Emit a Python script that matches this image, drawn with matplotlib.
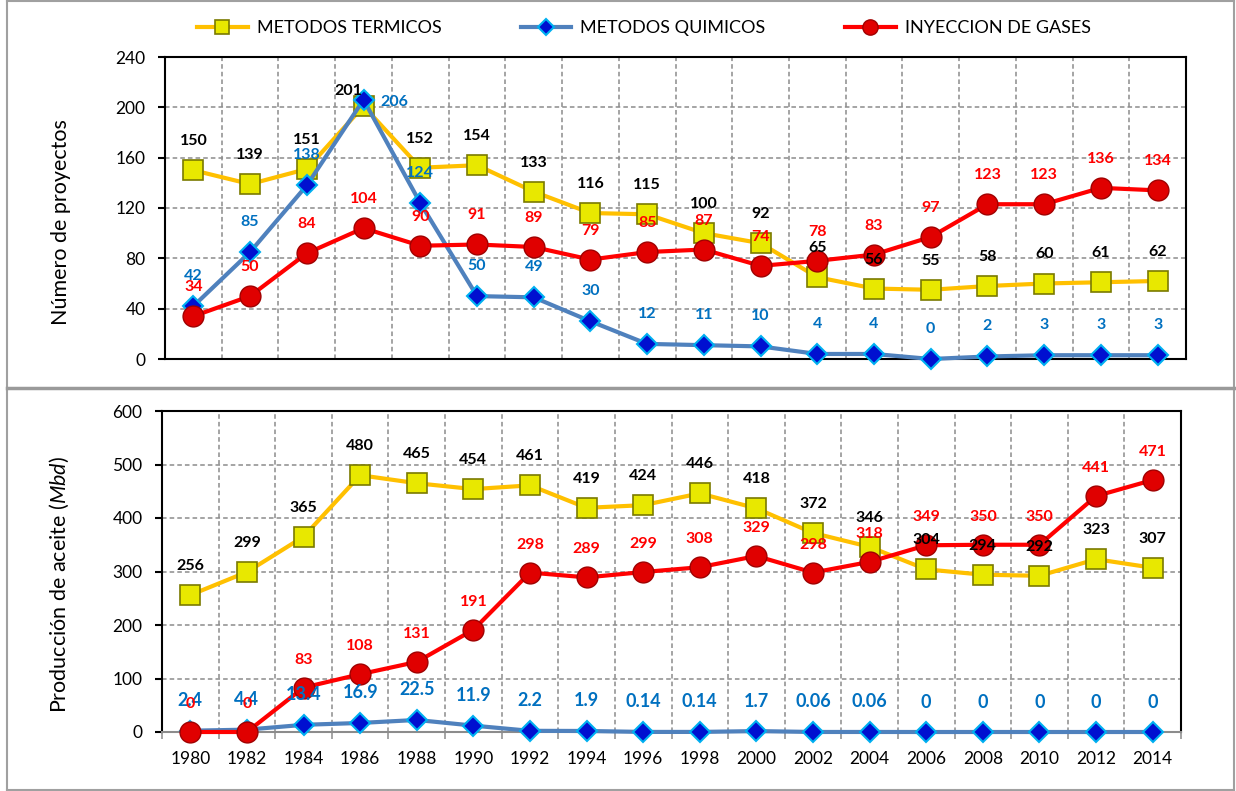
import matplotlib.pyplot as plt
from matplotlib.lines import Line2D
import numpy as np

plt.rcParams['font.family'] = ['Lato', 'DejaVu Sans']
plt.rcParams['mathtext.fontset'] = 'custom'
plt.rcParams['mathtext.rm'] = 'Lato'
plt.rcParams['mathtext.it'] = 'Lato:italic'

years = ['1980', '1982', '1984', '1986', '1988', '1990', '1992', '1994', '1996',
         '1998', '2000', '2002', '2004', '2006', '2008', '2010', '2012', '2014']

# numero de proyectos
termicos_proy = [150, 139, 151, 201, 152, 154, 133, 116, 115, 100, 92, 65, 56, 55, 58, 60, 61, 62]
quimicos_proy = [42, 85, 138, 206, 124, 50, 49, 30, 12, 11, 10, 4, 4, 0, 2, 3, 3, 3]
gases_proy = [34, 50, 84, 104, 90, 91, 89, 79, 85, 87, 74, 78, 83, 97, 123, 123, 136, 134]

# produccion de aceite (Mbd)
termicos_prod = [256, 299, 365, 480, 465, 454, 461, 419, 424, 446, 418, 372, 346, 304, 294, 292, 323, 307]
quimicos_prod = [2.4, 4.4, 13.4, 16.9, 22.5, 11.9, 2.2, 1.9, 0.14, 0.14, 1.7, 0.06, 0.06, 0, 0, 0, 0, 0]
quimicos_prod_lbl = ['2.4', '4.4', '13.4', '16.9', '22.5', '11.9', '2.2', '1.9', '0.14', '0.14', '1.7',
                     '0.06', '0.06', '0', '0', '0', '0', '0']
gases_prod = [0, 0, 83, 108, 131, 191, 298, 289, 299, 308, 329, 298, 318, 349, 350, 350, 441, 471]

x = np.arange(len(years))

st_term = dict(color='#FFC000', lw=3, marker='s', ms=14, mfc='#E8E800', mec='#7A7A00', mew=1.2)
st_quim = dict(color='#4F81BD', lw=3, marker='D', ms=10, mfc='#0010D0', mec='#00B0F0', mew=1.5)
st_gas = dict(color='#FF0000', lw=3, marker='o', ms=15, mfc='#E00000', mec='#A00000', mew=1.0)

c_term, c_quim, c_gas = 'black', '#0070C0', '#FF0000'
lbl_fs = 11.5

fig = plt.figure(figsize=(12.36, 7.91), dpi=100)
ax1 = fig.add_axes([165/1236, 1-359/791, (1186-165)/1236, (359-57)/791])
ax2 = fig.add_axes([162/1236, 1-732/791, (1181-162)/1236, (732-411)/791])


def style(ax, ymax, step, bottom_labels):
    ax.set_xlim(-0.5, len(years)-0.5)
    ax.set_ylim(0, ymax)
    ax.set_yticks(np.arange(0, ymax+1, step))
    ax.set_xticks(x)
    ax.set_xticks(np.arange(-0.5, len(years), 1), minor=True)
    ax.grid(True, which='minor', axis='x', ls=(0, (3, 2)), color='#8C8C8C', lw=1.1)
    ax.grid(True, which='major', axis='y', ls=(0, (3, 2)), color='#8C8C8C', lw=1.1)
    ax.set_axisbelow(True)
    ax.tick_params(axis='y', length=5, width=1.5, pad=9, labelsize=12.5)
    for s in ['left', 'top', 'right', 'bottom']:
        ax.spines[s].set_color('black')
        ax.spines[s].set_linewidth(1.5)
    if bottom_labels:
        ax.set_xticklabels(years)
        ax.tick_params(axis='x', which='major', length=0, pad=14, labelsize=12.5)
        ax.tick_params(axis='x', which='minor', length=5, color='#8C8C8C', width=1.1)
        ax.spines['bottom'].set_color('#8C8C8C')
        ax.spines['bottom'].set_linewidth(1.5)
    else:
        ax.tick_params(axis='x', which='both', length=0, labelbottom=False)


style(ax1, 240, 40, False)
style(ax2, 600, 100, True)

# panel superior
ax1.plot(x, termicos_proy, **st_term, clip_on=False, zorder=3)
ax1.plot(x, quimicos_proy, **st_quim, clip_on=False, zorder=4)
ax1.plot(x, gases_proy, **st_gas, clip_on=False, zorder=5)

for i in range(len(years)):
    off_t = (0, 29)
    off_q = (0, 30)
    if i == 3:
        off_t = (-15, 15)
        off_q = (31, -2)
    ax1.annotate(str(termicos_proy[i]), (x[i], termicos_proy[i]), xytext=off_t,
                 textcoords='offset pixels', ha='center', va='center',
                 color=c_term, fontsize=lbl_fs, fontweight='bold', zorder=6)
    ax1.annotate(str(quimicos_proy[i]), (x[i], quimicos_proy[i]), xytext=off_q,
                 textcoords='offset pixels', ha='center', va='center',
                 color=c_quim, fontsize=lbl_fs, fontweight='bold', zorder=6)
    ax1.annotate(str(gases_proy[i]), (x[i], gases_proy[i]), xytext=(0, 29),
                 textcoords='offset pixels', ha='center', va='center',
                 color=c_gas, fontsize=lbl_fs, fontweight='bold', zorder=6)

ax1.set_ylabel('Número de proyectos', fontsize=15.5)

# panel inferior
ax2.plot(x, termicos_prod, **st_term, clip_on=False, zorder=3)
ax2.plot(x, quimicos_prod, **st_quim, clip_on=False, zorder=4)
ax2.plot(x, gases_prod, **st_gas, clip_on=False, zorder=5)

for i in range(len(years)):
    ax2.annotate(str(termicos_prod[i]), (x[i], termicos_prod[i]), xytext=(0, 29),
                 textcoords='offset pixels', ha='center', va='center',
                 color=c_term, fontsize=lbl_fs, fontweight='bold', zorder=6)
    ax2.annotate(quimicos_prod_lbl[i], (x[i], quimicos_prod[i]), xytext=(0, 30),
                 textcoords='offset pixels', ha='center', va='center',
                 color=c_quim, fontsize=13, fontweight='bold', zorder=6)
    ax2.annotate(str(gases_prod[i]), (x[i], gases_prod[i]), xytext=(0, 28),
                 textcoords='offset pixels', ha='center', va='center',
                 color=c_gas, fontsize=lbl_fs, fontweight='bold', zorder=6)

ax2.set_ylabel(r'Producción de aceite $\mathit{(Mbd)}$', fontsize=15.5)
ax1.yaxis.set_label_coords(-0.092, 0.455)
ax2.yaxis.set_label_coords(-0.089, 0.46)

# leyenda
leg_term = dict(st_term, ms=10)
leg_quim = dict(st_quim, ms=8)
leg_gas = dict(st_gas, ms=11)
handles = [Line2D([], [], **leg_term), Line2D([], [], **leg_quim), Line2D([], [], **leg_gas)]
fig.legend(handles, ['METODOS TERMICOS', 'METODOS QUIMICOS', 'INYECCION DE GASES'],
           loc='center', bbox_to_anchor=(0.521, 0.964), ncol=3, frameon=False,
           fontsize=13, handlelength=2.8, columnspacing=4.4, handletextpad=0.5)

# marco y separador
fig.add_artist(Line2D([7/1236, 7/1236], [0, 1], color='#A0A0A0', lw=1.5))
fig.add_artist(Line2D([1234/1236, 1234/1236], [0, 1], color='#A0A0A0', lw=1.5))
fig.add_artist(Line2D([7/1236, 1234/1236], [1-1/791, 1-1/791], color='#A0A0A0', lw=1.5))
fig.add_artist(Line2D([7/1236, 1234/1236], [1/791, 1/791], color='#A0A0A0', lw=1.5))
fig.add_artist(Line2D([7/1236, 1234/1236], [1-388/791, 1-388/791], color='#9A9A9A', lw=2.5))

plt.savefig('out.png', dpi=100)
